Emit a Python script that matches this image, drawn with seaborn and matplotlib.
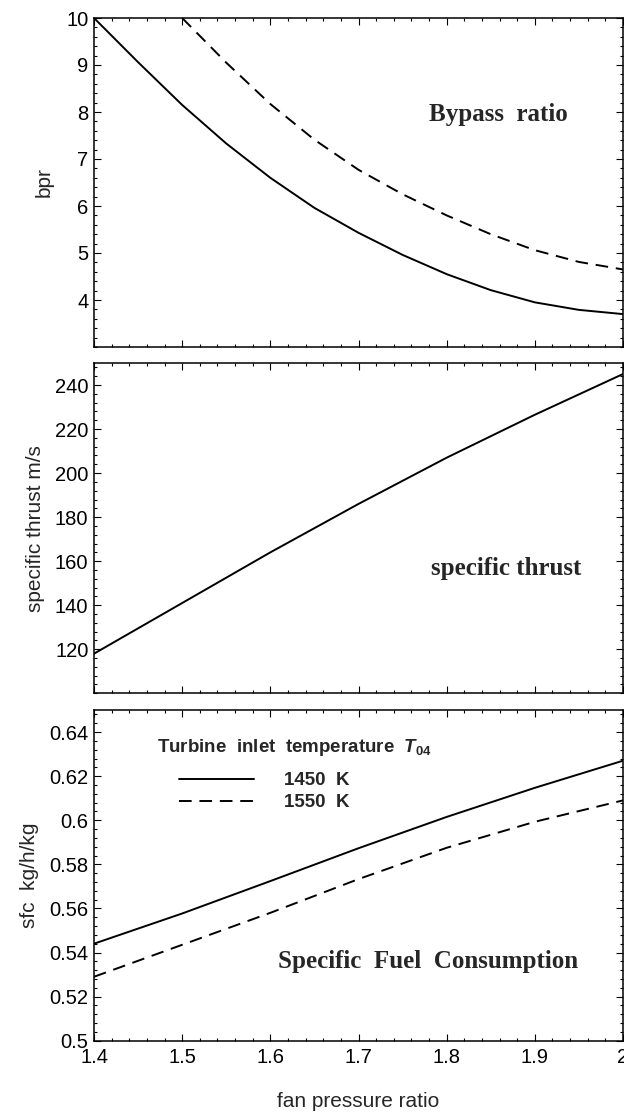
import numpy as np
import pandas as pd
import matplotlib
matplotlib.use("Agg")
import matplotlib.pyplot as plt
import seaborn as sns
from matplotlib.lines import Line2D
from matplotlib.ticker import AutoMinorLocator, FuncFormatter

# ---------------- data ----------------
temps = ["1450  K", "1550  K"]

fpr_bpr_1450 = [1.40, 1.45, 1.50, 1.55, 1.60, 1.65, 1.70, 1.75, 1.80, 1.85, 1.90, 1.95, 2.00]
bpr_1450 = [10.0, 9.06, 8.15, 7.33, 6.60, 5.96, 5.43, 4.96, 4.55, 4.21, 3.95, 3.79, 3.70]

fpr_bpr_1550 = [1.50, 1.55, 1.60, 1.65, 1.70, 1.75, 1.80, 1.85, 1.90, 1.95, 2.00]
bpr_1550 = [10.0, 9.05, 8.17, 7.41, 6.77, 6.25, 5.80, 5.40, 5.06, 4.81, 4.65]

fpr = [1.4, 1.5, 1.6, 1.7, 1.8, 1.9, 2.0]
thrust_1450 = [118, 141, 164, 186, 207, 226.5, 245]

sfc_1450 = [0.544, 0.5577, 0.5724, 0.5873, 0.6015, 0.6147, 0.627]
sfc_1550 = [0.529, 0.5435, 0.5580, 0.5733, 0.5875, 0.5993, 0.609]

x_ticks = [1.4, 1.5, 1.6, 1.7, 1.8, 1.9, 2.0]
bpr_ticks = [4, 5, 6, 7, 8, 9, 10]
thrust_ticks = [120, 140, 160, 180, 200, 220, 240]
sfc_ticks = [0.5, 0.52, 0.54, 0.56, 0.58, 0.6, 0.62, 0.64]

# ---------------- tables ----------------
df_bpr = pd.concat([
    pd.DataFrame({"fpr": fpr_bpr_1450, "val": bpr_1450, "T04": temps[0]}),
    pd.DataFrame({"fpr": fpr_bpr_1550, "val": bpr_1550, "T04": temps[1]}),
])
df_thr = pd.DataFrame({"fpr": fpr, "val": thrust_1450, "T04": temps[0]})
df_sfc = pd.concat([
    pd.DataFrame({"fpr": fpr, "val": sfc_1450, "T04": temps[0]}),
    pd.DataFrame({"fpr": fpr, "val": sfc_1550, "T04": temps[1]}),
])

# ---------------- style ----------------
sns.set_theme(style="ticks")
plt.rcParams["font.family"] = ["Liberation Sans", "DejaVu Sans"]
plt.rcParams["mathtext.fontset"] = "custom"
plt.rcParams["mathtext.it"] = "Liberation Sans:italic:bold"
plt.rcParams["mathtext.bf"] = "Liberation Sans:bold"
plt.rcParams["mathtext.rm"] = "Liberation Sans:bold"

LW = 1.4
DASH = (6.5, 4)
dash_map = {temps[0]: "", temps[1]: DASH}

fig = plt.figure(figsize=(6.24, 11.15), dpi=100)
L, W = 94 / 624, 529 / 624
ax1 = fig.add_axes([L, 1 - 347 / 1115, W, 329 / 1115])
ax2 = fig.add_axes([L, 1 - 693.3 / 1115, W, 330.3 / 1115])
ax3 = fig.add_axes([L, 1 - 1040.7 / 1115, W, 330.7 / 1115])

sns.lineplot(data=df_bpr, x="fpr", y="val", style="T04", dashes=dash_map,
             color="black", lw=LW, ax=ax1, legend=False, sort=False)
sns.lineplot(data=df_thr, x="fpr", y="val", color="black", lw=LW,
             ax=ax2, legend=False, sort=False)
sns.lineplot(data=df_sfc, x="fpr", y="val", style="T04", dashes=dash_map,
             color="black", lw=LW, ax=ax3, legend=False, sort=False)

fmt = FuncFormatter(lambda v, p: f"{v:g}")
for ax in (ax1, ax2, ax3):
    ax.set_xlim(1.4, 2.0)
    ax.set_xticks(x_ticks)
    ax.xaxis.set_minor_locator(AutoMinorLocator(5))
    ax.yaxis.set_minor_locator(AutoMinorLocator(5))
    ax.xaxis.set_major_formatter(fmt)
    ax.yaxis.set_major_formatter(fmt)
    ax.tick_params(which="both", direction="in", top=True, right=True,
                   colors="black", width=0.8)
    ax.tick_params(which="major", length=5, labelsize=14.5, pad=4)
    ax.tick_params(which="minor", length=2.5)
    for s in ax.spines.values():
        s.set_linewidth(1.1)
        s.set_color("black")
    ax.set_xlabel("")

ax1.set_ylim(3, 10)
ax1.set_yticks(bpr_ticks)
ax2.set_ylim(100, 250)
ax2.set_yticks(thrust_ticks)
ax3.set_ylim(0.5, 0.65)
ax3.set_yticks(sfc_ticks)
ax1.tick_params(labelbottom=False)
ax2.tick_params(labelbottom=False)
ax3.tick_params(axis="x", pad=5)

ax1.set_ylabel("bpr", fontsize=15, labelpad=9)
ax2.set_ylabel("specific thrust m/s", fontsize=15, labelpad=7)
ax3.set_ylabel("sfc  kg/h/kg", fontsize=15, labelpad=7)
ax3.set_xlabel("fan pressure ratio", fontsize=15, labelpad=18)

serif = dict(family=["Liberation Serif", "DejaVu Serif"], weight="bold", size=18,
             ha="left", va="baseline")
ax1.text(0.633, 0.687, "Bypass  ratio", transform=ax1.transAxes, **serif)
ax2.text(0.637, 0.358, "specific thrust", transform=ax2.transAxes, **serif)
ax3.text(0.348, 0.22, "Specific  Fuel  Consumption", transform=ax3.transAxes, **serif)

ax3.text(0.119, 0.873, r"Turbine  inlet  temperature  $\mathit{T}_{\mathbf{04}}$",
         transform=ax3.transAxes, weight="bold", size=13.5, ha="left", va="baseline")
handles = [Line2D([], [], color="black", lw=LW, ls="-"),
           Line2D([], [], color="black", lw=LW, dashes=DASH)]
ax3.legend(handles, temps, loc="upper left", bbox_to_anchor=(0.161, 0.812),
           frameon=False, borderpad=0, borderaxespad=0, handlelength=4,
           handletextpad=1.6, labelspacing=0.25,
           prop={"family": "Liberation Sans", "weight": "bold", "size": 13.5})

fig.savefig("out.png", dpi=100)
